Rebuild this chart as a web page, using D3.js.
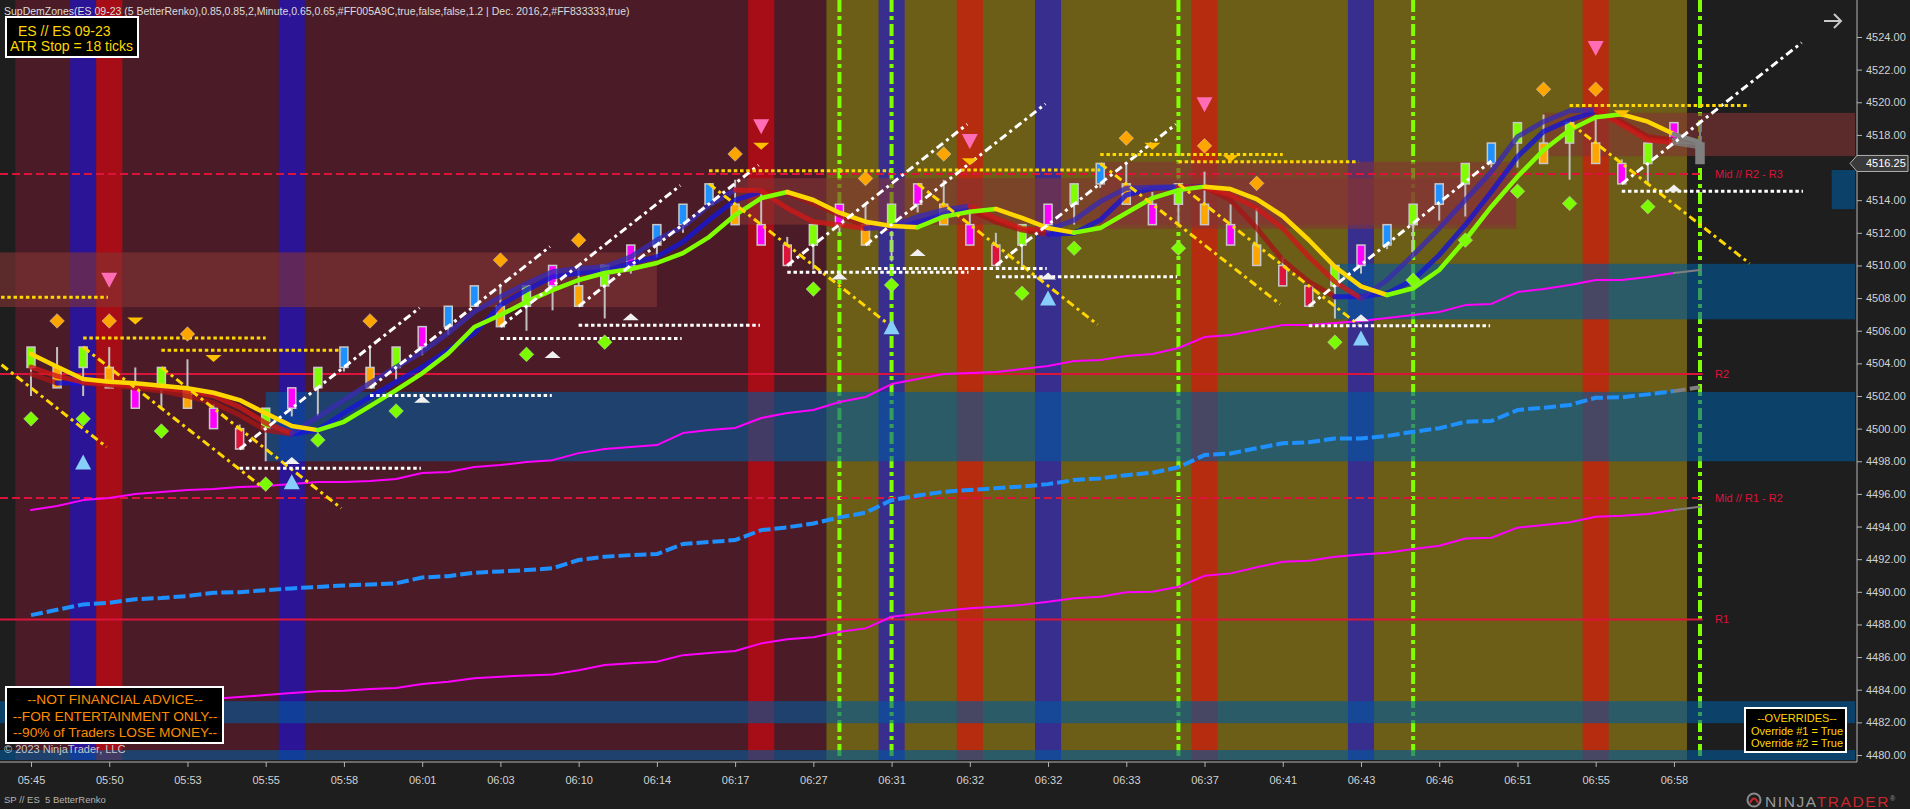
<!DOCTYPE html>
<html>
<head>
<meta charset="utf-8">
<title>SupDemZones ES 09-23</title>
<style>
body { margin: 0; background: #1e1e1e; overflow: hidden; }
svg { display: block; font-family: "Liberation Sans", Arial, sans-serif; }
</style>
</head>
<body>
<script src="https://cdnjs.cloudflare.com/ajax/libs/d3/7.8.5/d3.min.js"></script>
<script>
// ---- bars (5 tick renko, 1.25 pt boxes) ----
var barOpen = [4503.75,4503.75,4503.75,4503.75,4502.5,4502.5,4502.5,4501.25,4500,4500,
  4501.25,4502.5,4503.75,4503.75,4503.75,4505,4506.25,4507.5,4507.5,4507.5,
  4508.75,4508.75,4508.75,4510,4511.25,4512.5,4513.75,4513.75,4512.5,4511.25,
  4511.25,4512.5,4512.5,4512.5,4513.75,4513.75,4512.5,4511.25,4511.25,4512.5,
  4513.75,4515,4515,4513.75,4513.75,4513.75,4512.5,4511.25,4510,4508.75,
  4508.75,4510,4511.25,4512.5,4513.75,4515,4516.25,4517.5,4517.5,4517.5,
  4517.5,4516.25,4516.25,4517.5,4517.5];
var barClose = [4505,4502.5,4505,4502.5,4501.25,4503.75,4501.25,4500,4498.75,4501.25,
  4502.5,4503.75,4505,4502.5,4505,4506.25,4507.5,4508.75,4506.25,4508.75,
  4510,4507.5,4510,4511.25,4512.5,4513.75,4515,4512.5,4511.25,4510,
  4512.5,4513.75,4511.25,4513.75,4515,4512.5,4511.25,4510,4512.5,4513.75,
  4515,4516.25,4513.75,4512.5,4515,4512.5,4511.25,4510,4508.75,4507.5,
  4510,4511.25,4512.5,4513.75,4515,4516.25,4517.5,4518.75,4516.25,4518.75,
  4516.25,4515,4517.5,4518.75,4516.25];
var barHigh = [4505,4505,4505,4505,4503.75,4503.75,4504.25,4501.5,4500.25,4501.25,
  4502.5,4503.75,4505,4505,4505,4506.25,4507.5,4508.75,4508.75,4508.75,
  4510,4510,4510,4511.25,4512.5,4513.75,4515,4515.25,4514.5,4511.75,
  4512.5,4513.75,4513.75,4513.75,4515,4515.25,4513.5,4512,4512.5,4513.75,
  4515,4516.25,4516.25,4514.5,4515,4515.75,4513.75,4513.5,4510.5,4508.75,
  4510,4511.25,4512.5,4513.75,4515,4516.25,4517.5,4518.75,4519.25,4518.75,
  4519.25,4516.5,4517.5,4518.75,4518.75];
var barLow = [4502,4502.5,4502,4502.5,4501.25,4501.25,4501.25,4500,4498.75,4498,
  4500.75,4500.75,4503.5,4502.5,4503,4504.5,4505.75,4507.5,4506.25,4506,
  4507.25,4507.5,4506.75,4509.5,4510.5,4512,4513.75,4512.5,4511.25,4510,
  4509.75,4512,4511.25,4510.25,4513.25,4512.5,4511.25,4510,4509.75,4512,
  4512.5,4514.75,4513.75,4512.5,4512.5,4512.5,4511.25,4510,4508.75,4507.5,
  4506.75,4509.5,4511,4510.5,4512.75,4513,4516,4516,4516.25,4515.25,
  4516.25,4515,4515,4517.5,4516.25];
var barColor = ("GOGOMGOMRG" + "MGBOGMBBOG" + "MOGMBBBOMR" + "GMOGMOMRGM" +
  "GBOMGOMORR" + "GMBGBGBGOG" + "OMGMX").split("");
var colorOf = { G: "#7fff00", O: "#ffa500", M: "#ff00ff", B: "#1e90ff", R: "#dc143c", X: "#7f7f7f" };

// ---- time axis ----
var timeTicks = d3.range(0, 64, 3);
var timeLabels = ["05:45","05:50","05:53","05:55","05:58","06:01","06:03","06:10","06:14","06:17","06:27",
  "06:31","06:32","06:32","06:33","06:37","06:41","06:43","06:46","06:51","06:55","06:58"];
var priceTicks = d3.range(4480, 4525, 2);
var lastPrice = 4516.25;

// ---- moving lines ----
var maSlow = [4504.57,4503.79,4503.04,4502.87,4502.78,4502.63,4502.47,4502.20,4501.75,4500.94,
  4500.16,4499.91,4500.42,4501.38,4502.36,4503.39,4504.61,4506.23,4506.96,4507.78,
  4508.49,4509.11,4509.54,4509.78,4510.15,4510.76,4511.74,4513.09,4514.13,4514.50,
  4514.01,4513.23,4512.68,4512.42,4512.34,4512.99,4513.29,4513.46,4512.91,4512.29,
  4512.01,4512.29,4513.21,4514.13,4514.62,4514.83,4514.68,4514.07,4513.03,4511.56,
  4509.92,4508.72,4508.19,4508.60,4509.72,4511.56,4513.60,4515.44,4517.07,4518.30,
  4519.08,4519.26,4518.81,4518.05,4517.56];
var maFast1 = [4503.77,4503.22,4502.86,4502.73,4502.61,4502.49,4502.30,4502.00,4501.32,4500.34,
  4499.73,4500.71,4501.75,4502.79,4503.77,4504.69,4505.86,4507.16,4508.08,4508.90,
  4509.62,4509.82,4509.92,4510.53,4511.56,4512.37,4513.70,4514.62,4514.58,4513.50,
  4512.68,4512.48,4512.27,4512.37,4512.99,4513.40,4513.64,4512.89,4512.27,4512.17,
  4512.78,4513.91,4514.73,4514.79,4514.83,4514.75,4514.32,4513.52,4512.27,4510.53,
  4509.00,4507.98,4509.11,4510.64,4512.27,4514.01,4515.74,4517.89,4518.81,4519.48,
  4519.53,4518.61,4517.69,4517.52,4517.28];
var maFast2 = [4503.35,4502.79,4502.79,4502.67,4502.49,4502.30,4502.00,4501.57,4500.83,4499.91,
  4499.67,4499.91,4500.96,4501.94,4502.86,4503.77,4504.82,4505.84,4507.57,4508.49,
  4509.31,4509.52,4509.72,4510.13,4510.53,4511.45,4512.78,4514.01,4514.52,4514.42,
  4513.81,4513.09,4512.37,4512.27,4512.66,4513.15,4513.40,4512.66,4512.17,4511.91,
  4511.97,4512.78,4514.32,4514.73,4514.79,4514.81,4514.01,4512.29,4510.33,4509.00,
  4508.08,4508.08,4508.29,4509.11,4510.64,4512.48,4514.52,4516.66,4518.20,4518.91,
  4519.42,4518.81,4517.89,4517.69,4517.50];
var vwapUpper = [4495.01,4495.26,4495.62,4495.75,4495.99,4496.11,4496.24,4496.30,4496.42,4496.48,
  4496.60,4496.73,4496.73,4496.79,4496.91,4497.28,4497.34,4497.65,4497.77,4497.95,
  4498.07,4498.50,4498.75,4498.87,4498.99,4499.73,4499.91,4500.04,4500.65,4500.96,
  4501.14,4501.63,4501.94,4502.73,4503.04,4503.35,4503.41,4503.47,4503.65,4503.84,
  4504.14,4504.20,4504.45,4504.57,4504.94,4505.61,4505.74,4506.04,4506.35,4506.35,
  4506.47,4506.59,4506.78,4506.96,4507.15,4507.57,4507.64,4508.37,4508.56,4508.80,
  4509.11,4509.11,4509.29,4509.54,4509.72];
var vwapLower = [null,null,null,null,null,null,null,4483.45,4483.55,4483.67,
  4483.80,4483.90,4483.94,4484.05,4484.10,4484.35,4484.49,4484.70,4484.80,4484.87,
  4484.94,4485.20,4485.51,4485.62,4485.71,4486.12,4486.25,4486.37,4486.84,4487.10,
  4487.21,4487.55,4487.76,4488.47,4488.65,4488.84,4488.99,4489.08,4489.20,4489.39,
  4489.60,4489.70,4489.97,4490.00,4490.31,4490.98,4491.13,4491.50,4491.84,4491.90,
  4492.15,4492.29,4492.39,4492.62,4492.82,4493.27,4493.31,4493.93,4494.09,4494.26,
  4494.60,4494.66,4494.77,4495.01,4495.21];
var vwapMid = [4488.57,4488.90,4489.23,4489.33,4489.55,4489.62,4489.74,4489.94,4489.98,4490.10,
  4490.21,4490.30,4490.39,4490.45,4490.52,4490.88,4490.96,4491.17,4491.25,4491.33,
  4491.44,4491.95,4492.15,4492.25,4492.31,4492.93,4493.05,4493.17,4493.78,4493.95,
  4494.19,4494.56,4494.85,4495.62,4495.90,4496.13,4496.24,4496.35,4496.45,4496.60,
  4496.85,4496.95,4497.15,4497.30,4497.63,4498.38,4498.48,4498.80,4499.10,4499.16,
  4499.40,4499.40,4499.55,4499.81,4500.02,4500.42,4500.47,4501.14,4501.28,4501.45,
  4501.89,4501.92,4502.10,4502.30,4502.53];

// ---- background sessions, signal bands, zones, pivots ----
var regimeFrom = [-0.6, 30.5], regimeTo = [30.5, 63.5], regimeColor = ["#4b1c28", "#6c5d17"];
var blueBands = [2, 10, 33, 39, 51];
var redBands = [3, 28, 36, 45, 60];
var signalLines = [31, 33, 44, 53, 64];
var supplyFrom = [-5, 27.05, 41, 58], supplyTo = [24, 56.95, 56.95, 70];
var supplyTop = [4510.8, 4515.35, 4516.35, 4519.35], supplyBot = [4507.45, 4512.5, 4512.25, 4516.7];
var demandFrom = [9, 50, 69.05, -5, -5], demandTo = [70, 70, 70, 70, 70];
var demandTop = [4502.25, 4510.1, 4515.85, 4483.3, 4480.3], demandBot = [4498, 4506.7, 4513.45, 4481.95, 4479.5];
var pivotPrice = [4515.6, 4503.35, 4495.75, 4488.3];
var pivotName = ["Mid // R2 - R3", "R2", "Mid // R1 - R2", "R1"];
var pivotDashed = [true, false, true, false];

// ---- trend lines [bar0, price0, bar1, price1] and levels [bar0, bar1, price] ----
var upTrend = [[8,4498.75,14.9,4507.4],[13,4502.5,19.9,4511.15],[18,4506.25,24.9,4514.9],
  [21,4507.5,27.9,4516.15],[29,4510,35.9,4518.65],[32,4511.25,38.9,4519.9],
  [37,4510,43.9,4518.65],[49,4507.5,56,4516.4],[61,4515,67.9,4523.65]];
var downTrend = [[-4,4507.5,2.9,4498.875],[2,4505,8.9,4496.375],[5,4503.75,11.9,4495.125],
  [26,4515,32.9,4506.375],[34,4515,40.9,4506.375],[41,4516.25,47.9,4507.625],
  [44,4515,50.9,4506.375],[59,4518.75,65.9,4510.125]];
var resistLevels = [[-4,2.95,4508.05],[2,9,4505.55],[5,11.9,4504.8],[26,32.95,4515.8],
  [34,41,4515.85],[41,48,4516.8],[44,50.9,4516.35],[59,65.9,4519.8]];
var supportLevels = [[8,14.95,4497.57],[13,19.97,4502.03],[18,24.95,4505.53],[21,27.95,4506.33],
  [29,35.95,4509.58],[32,38.95,4509.82],[37,43.95,4509.31],[49,55.95,4506.31],[61,67.95,4514.54]];

// ---- markers [bar, price] ----
var orangeDiamonds = [[1,4506.6],[3,4506.6],[6,4505.8],[13,4506.6],[18,4510.33],[21,4511.55],[27,4516.83],
  [32,4515.33],[35,4516.83],[42,4517.8],[45,4517.33],[47,4515.03],[58,4520.8],[60,4520.8]];
var greenDiamonds = [[0,4500.6],[2,4500.6],[5,4499.85],[9,4496.6],[11,4499.3],[14,4501.08],[19,4504.55],
  [22,4505.3],[30,4508.55],[33,4508.8],[38,4508.3],[40,4511.05],[44,4511.05],[50,4505.3],
  [53,4509.1],[55,4511.55],[57,4514.55],[59,4513.8],[62,4513.6]];
var pinkDown = [[3,4509.1],[28,4518.5],[36,4517.6],[45,4519.85],[60,4523.3]];
var goldDown = [[4,4506.6],[7,4504.3],[28,4517.3],[36,4516.35],[43,4517.3],[46,4516.55],[61,4519.3]];
var skyUp = [[2,4497.95],[10,4496.75],[33,4506.25],[39,4508],[51,4505.55]];
var whiteUp = [[10,4498.05],[15,4501.8],[20,4504.55],[23,4506.85],[31,4509.35],[34,4510.8],
  [39,4509.35],[51,4506.8],[63,4514.75]];

var GRAY = "#808080";
var W = 1910, H = 809, plotW = 1855, plotH = 760, axisX = 1857, axisY = 762;
var font = '"Liberation Sans", Arial, sans-serif';

var x = d3.scaleLinear().domain([0, 64]).range([31, 1700]);
var y = d3.scaleLinear().domain([4480, 4524]).range([755, 37]);
var barW = x(1) - x(0);

var svg = d3.select("body").append("svg").attr("width", W).attr("height", H);
svg.append("rect").attr("width", W).attr("height", H).attr("fill", "#1e1e1e");
svg.append("clipPath").attr("id", "plot").append("rect").attr("width", plotW).attr("height", plotH);
var plot = svg.append("g").attr("clip-path", "url(#plot)");

// sessions
plot.selectAll(null).data(regimeFrom).enter().append("rect")
  .attr("x", function(d) { return x(d); })
  .attr("width", function(d, i) { return x(regimeTo[i]) - x(d); })
  .attr("y", 0).attr("height", plotH)
  .attr("fill", function(d, i) { return regimeColor[i]; });

// signal bands
function bands(list, color) {
  plot.selectAll(null).data(list).enter().append("rect")
    .attr("x", function(d) { return x(d - 0.5); })
    .attr("width", barW).attr("y", 0).attr("height", plotH)
    .attr("fill", color);
}
bands(blueBands, "rgba(21,15,222,0.6)");
bands(redBands, "rgba(250,0,5,0.52)");

// vertical dash-dot signal lines
plot.selectAll(null).data(signalLines).enter().append("line")
  .attr("x1", function(d) { return x(d); }).attr("x2", function(d) { return x(d); })
  .attr("y1", 0).attr("y2", plotH)
  .attr("stroke", "#7fff00").attr("stroke-width", 4).attr("stroke-dasharray", "12,4,4,4");

// zones
function zones(from, to, top, bot, color) {
  plot.selectAll(null).data(from).enter().append("rect")
    .attr("x", function(d) { return x(d); })
    .attr("width", function(d, i) { return x(to[i]) - x(d); })
    .attr("y", function(d, i) { return y(top[i]); })
    .attr("height", function(d, i) { return y(bot[i]) - y(top[i]); })
    .attr("fill", color);
}
zones(supplyFrom, supplyTo, supplyTop, supplyBot, "rgba(131,51,51,0.6)");
zones(demandFrom, demandTo, demandTop, demandBot, "rgba(0,90,156,0.6)");

// pivots
plot.selectAll(null).data(pivotPrice).enter().append("line")
  .attr("x1", 0).attr("x2", x(64.1))
  .attr("y1", function(d) { return y(d); }).attr("y2", function(d) { return y(d); })
  .attr("stroke", "#dc143c").attr("stroke-width", 2)
  .attr("stroke-dasharray", function(d, i) { return pivotDashed[i] ? "8,4" : null; });
plot.selectAll(null).data(pivotPrice).enter().append("text")
  .attr("x", 1715).attr("y", function(d) { return y(d); }).attr("dy", "0.35em")
  .attr("fill", "#dc143c").attr("font-size", 11)
  .text(function(d, i) { return pivotName[i]; });

// coloured series, last segment grey
var line = d3.line().x(function(d) { return x(d[0]); }).y(function(d) { return y(d[1]); });
function series(vals, upColor, downColor, width, opacity, dash) {
  var runs = [];
  for (var i = 1; i < vals.length; i++) {
    if (vals[i - 1] == null || vals[i] == null) continue;
    var c = i == vals.length - 1 ? GRAY : (vals[i] >= vals[i - 1] ? upColor : downColor);
    var last = runs[runs.length - 1];
    if (last && last.color == c && last.end == i - 1) { last.idx.push(i); last.end = i; }
    else runs.push({ color: c, idx: [i - 1, i], end: i });
  }
  runs.forEach(function(r) {
    plot.append("path")
      .attr("d", line(r.idx.map(function(j) { return [j, vals[j]]; })))
      .attr("fill", "none").attr("stroke", r.color).attr("stroke-width", width)
      .attr("stroke-opacity", opacity).attr("stroke-linejoin", "round")
      .attr("stroke-linecap", dash ? "butt" : "round")
      .attr("stroke-dasharray", dash);
  });
}
series(vwapUpper, "#ff00ff", "#ff00ff", 2, 1, null);
series(vwapLower, "#ff00ff", "#ff00ff", 2, 1, null);
series(vwapMid, "#1e90ff", "#1e90ff", 4, 1, "12,4");

// candles
var candles = plot.selectAll(null).data(barOpen).enter().append("g");
candles.append("line")
  .attr("x1", function(d, i) { return x(i); }).attr("x2", function(d, i) { return x(i); })
  .attr("y1", function(d, i) { return y(barHigh[i]); }).attr("y2", function(d, i) { return y(barLow[i]); })
  .attr("stroke", function(d, i) { return barColor[i] == "X" ? GRAY : "#c0c0c0"; }).attr("stroke-width", 2);
candles.append("rect")
  .attr("x", function(d, i) { return x(i) - 4; }).attr("width", 8)
  .attr("y", function(d, i) { return y(Math.max(d, barClose[i])); })
  .attr("height", function(d, i) { return Math.abs(y(d) - y(barClose[i])); })
  .attr("fill", function(d, i) { return colorOf[barColor[i]]; })
  .attr("stroke", function(d, i) { return barColor[i] == "X" ? GRAY : "#c8c8c8"; })
  .attr("stroke-width", 1.5);

series(maFast2, "#1515d8", "#a51515", 5, 0.8, null);
series(maFast1, "#3a2ab0", "#d01818", 5, 0.8, null);
series(maSlow, "#7fff00", "#ffd700", 4.5, 1, null);

// trend lines
function trends(list, color) {
  plot.selectAll(null).data(list).enter().append("line")
    .attr("x1", function(d) { return x(d[0]); }).attr("y1", function(d) { return y(d[1]); })
    .attr("x2", function(d) { return x(d[2]); }).attr("y2", function(d) { return y(d[3]); })
    .attr("stroke", color).attr("stroke-width", 3).attr("stroke-dasharray", "8,4,3,4");
}
trends(upTrend, "#ffffff");
trends(downTrend, "#ffd700");

function levels(list, color) {
  plot.selectAll(null).data(list).enter().append("line")
    .attr("x1", function(d) { return x(d[0]); }).attr("x2", function(d) { return x(d[1]); })
    .attr("y1", function(d) { return y(d[2]); }).attr("y2", function(d) { return y(d[2]); })
    .attr("stroke", color).attr("stroke-width", 3).attr("stroke-dasharray", "3.5,2.7");
}
levels(resistLevels, "#ffd700");
levels(supportLevels, "#ffffff");

// markers
function marks(list, color, pathFn, stroke) {
  plot.selectAll(null).data(list).enter().append("path")
    .attr("d", function(d) { return pathFn(x(d[0]), y(d[1])); })
    .attr("fill", color).attr("stroke", stroke || "none").attr("stroke-width", 0.8);
}
function diamond(cx, cy) { var r = 7.3; return "M" + cx + "," + (cy - r) + "L" + (cx + r) + "," + cy + "L" + cx + "," + (cy + r) + "L" + (cx - r) + "," + cy + "Z"; }
function tri(w, h, up) {
  return function(cx, cy) {
    var t = up ? cy - h / 2 : cy + h / 2, b = up ? cy + h / 2 : cy - h / 2;
    return "M" + cx + "," + t + "L" + (cx + w / 2) + "," + b + "L" + (cx - w / 2) + "," + b + "Z";
  };
}
marks(orangeDiamonds, "#ffa500", diamond, "rgba(210,210,210,0.6)");
marks(greenDiamonds, "#7cfc00", diamond, "rgba(210,210,210,0.6)");
marks(pinkDown, "#ff6eb4", tri(16, 15, false));
marks(goldDown, "#ffc000", tri(16, 7, false));
marks(skyUp, "#87cefa", tri(16, 15, true));
marks(whiteUp, "#f0f0f0", tri(16, 7, true));

// ---- axes ----
// the price tag hides the tick label nearest the last price
var yAxis = svg.append("g").attr("transform", "translate(" + axisX + ",0)")
  .call(d3.axisRight(y).tickValues(priceTicks)
    .tickFormat(function(d) { return Math.abs(d - lastPrice) < 1 ? "" : d3.format(".2f")(d); })
    .tickSize(5).tickPadding(4));
var xAxis = svg.append("g").attr("transform", "translate(0," + axisY + ")")
  .call(d3.axisBottom(x).tickValues(timeTicks).tickFormat(function(d, i) { return timeLabels[i]; })
    .tickSize(5).tickPadding(9));
[yAxis, xAxis].forEach(function(a) {
  a.attr("font-family", font).attr("font-size", 11);
  a.select(".domain").remove();
  a.selectAll("line").attr("stroke", "#b4b4b4");
  a.selectAll("text").attr("fill", "#d2d2d2");
});
svg.append("line").attr("x1", axisX).attr("x2", axisX).attr("y1", 0).attr("y2", axisY)
  .attr("stroke", "#b4b4b4");
svg.append("line").attr("x1", 0).attr("x2", axisX).attr("y1", axisY).attr("y2", axisY)
  .attr("stroke", "#b4b4b4");

// current price tag
var ty = y(lastPrice);
svg.append("path")
  .attr("d", "M1850," + ty + "L1857," + (ty - 8) + "L1908," + (ty - 8) + "L1908," + (ty + 8) + "L1857," + (ty + 8) + "Z")
  .attr("fill", "#3a3a3a").attr("stroke", "#b0b0b0");
svg.append("text").attr("x", 1866).attr("y", ty).attr("dy", "0.35em")
  .attr("fill", "#ffffff").attr("font-size", 11).text(d3.format(".2f")(lastPrice));

// arrow
svg.append("path").attr("d", "M1824,21L1841,21M1834,14L1841,21L1834,28")
  .attr("fill", "none").attr("stroke", "#c8c8c8").attr("stroke-width", 2);

// ---- texts and boxes ----
svg.append("text").attr("x", 4).attr("y", 15).attr("font-size", 10.5).attr("fill", "#dcdcdc")
  .text("SupDemZones(ES 09-23 (5 BetterRenko),0.85,0.85,2,Minute,0.65,0.65,#FF005A9C,true,false,false,1.2 | Dec. 2016,2,#FF833333,true)");

svg.append("rect").attr("x", 6).attr("y", 17).attr("width", 132).attr("height", 40)
  .attr("fill", "#000").attr("stroke", "#fff").attr("stroke-width", 2);
svg.append("text").attr("x", 18).attr("y", 36).attr("font-size", 14).attr("fill", "#ffd700").text("ES // ES 09-23");
svg.append("text").attr("x", 10).attr("y", 50.5).attr("font-size", 14).attr("fill", "#ffd700").text("ATR Stop = 18 ticks");

svg.append("rect").attr("x", 6).attr("y", 687).attr("width", 217).attr("height", 56)
  .attr("fill", "#000").attr("stroke", "#fff").attr("stroke-width", 2);
svg.selectAll(null).data(["--NOT FINANCIAL ADVICE--", "--FOR ENTERTAINMENT ONLY--", "--90% of Traders LOSE MONEY--"])
  .enter().append("text")
  .attr("x", 115).attr("y", function(d, i) { return 704 + i * 16.5; })
  .attr("text-anchor", "middle").attr("font-size", 13.7).attr("fill", "#ff8c00")
  .text(function(d) { return d; });
svg.append("text").attr("x", 4).attr("y", 753).attr("font-size", 11).attr("fill", "#c8c8c8")
  .text("\u00a9 2023 NinjaTrader, LLC");

svg.append("rect").attr("x", 1745).attr("y", 708).attr("width", 101).attr("height", 44)
  .attr("fill", "#000").attr("stroke", "#fff").attr("stroke-width", 2);
svg.selectAll(null).data(["--OVERRIDES--", "Override #1 = True", "Override #2 = True"])
  .enter().append("text")
  .attr("x", 1797).attr("y", function(d, i) { return 722 + i * 12.5; })
  .attr("text-anchor", "middle").attr("font-size", 11).attr("fill", "#ffd700")
  .text(function(d) { return d; });

svg.append("text").attr("x", 4).attr("y", 803).attr("font-size", 9.5).attr("fill", "#b4b4b4")
  .style("white-space", "pre").text("SP // ES  5 BetterRenko");

svg.append("circle").attr("cx", 1754).attr("cy", 800).attr("r", 6.5)
  .attr("fill", "none").attr("stroke", "#8a8a8a").attr("stroke-width", 2);
svg.append("path").attr("d", "M1750,803 Q1754,794 1758,803").attr("fill", "none")
  .attr("stroke", "#c8282d").attr("stroke-width", 2);
var logo = svg.append("text").attr("x", 1765).attr("y", 807).attr("font-size", 15.5)
  .attr("letter-spacing", 1.6);
logo.append("tspan").attr("fill", "#9a9a9a").text("NINJA");
logo.append("tspan").attr("fill", "#c8282d").text("TRADER");
logo.append("tspan").attr("fill", "#9a9a9a").attr("font-size", 7).attr("dy", -6).text("\u00ae");
</script>
</body>
</html>
